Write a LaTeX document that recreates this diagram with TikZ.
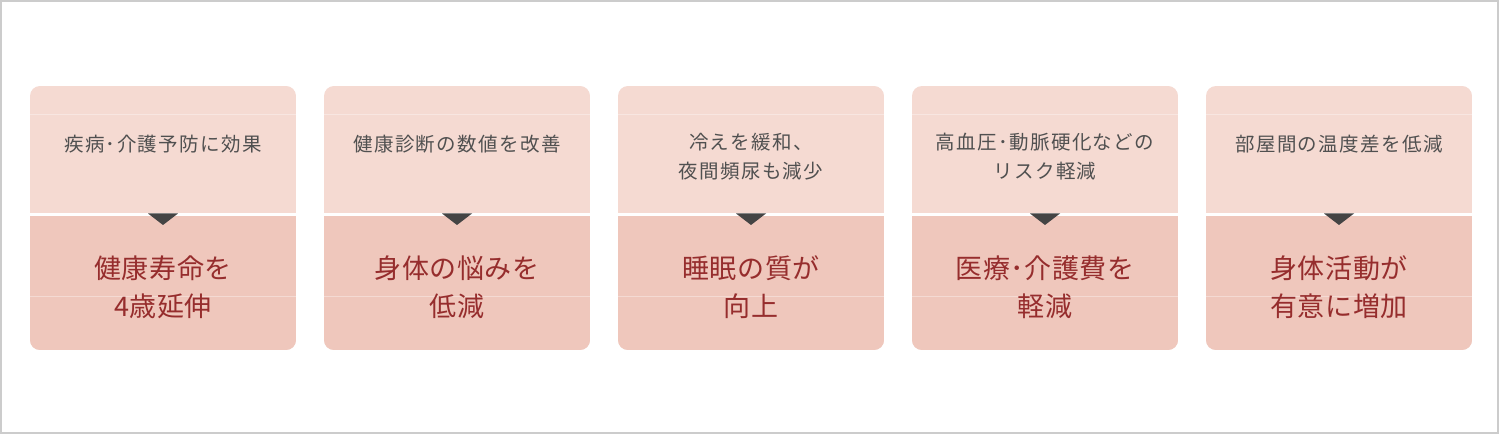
\documentclass[tikz,border=0pt]{standalone}
\usepackage{fontspec}
\setmainfont{Noto Sans CJK JP}
\newfontfamily\topfont[LetterSpace=7]{Noto Sans CJK JP}
\newfontfamily\botfont[LetterSpace=2]{Noto Sans CJK JP}
\definecolor{topc}{HTML}{F5DAD2}
\definecolor{botc}{HTML}{EFC7BC}
\definecolor{txtgray}{HTML}{505050}
\definecolor{txtred}{HTML}{962D2D}
\definecolor{framec}{HTML}{CCCCCC}
\definecolor{tric}{HTML}{444444}
\tikzset{
  toptext/.style={text=txtgray, align=center, inner sep=0pt, font=\topfont\fontsize{19.5}{29}\selectfont},
  bottext/.style={text=txtred, align=center, inner sep=0pt, font=\botfont\fontsize{27}{38}\selectfont},
  faint/.style={white, opacity=0.35, line width=1pt}
}
\begin{document}
\begin{tikzpicture}[x=1pt,y=-1pt]
\useasboundingbox (0,0) rectangle (1500,435);
\fill[white] (0,0) rectangle (1500,435);
\draw[framec,line width=2pt] (1,1) rectangle (1498,433);
\foreach \i/\tt/\bt/\ty in {
  0/{疾病･介護予防に効果}/{健康寿命を\\4歳延伸}/144,
  1/{健康診断の数値を改善}/{身体の悩みを\\低減}/144,
  2/{冷えを緩和、\\夜間頻尿も減少}/{睡眠の質が\\向上}/156.5,
  3/{高血圧･動脈硬化などの\\リスク軽減}/{医療･介護費を\\軽減}/156.5,
  4/{部屋間の温度差を低減}/{身体活動が\\有意に増加}/144} {
  \pgfmathsetmacro{\L}{30+294*\i}
  \pgfmathsetmacro{\R}{\L+266}
  \pgfmathsetmacro{\C}{\L+133}
  \begin{scope}
    \clip[rounded corners=10pt] (\L,86) rectangle (\R,350);
    \fill[topc] (\L,86) rectangle (\R,350);
    \fill[botc] (\L,216) rectangle (\R,350);
    \fill[white] (\L,213) rectangle (\R,216.5);
    \draw[faint] (\L,115) -- (\R,115);
    \draw[faint] (\L,297) -- (\R,297);
  \end{scope}
  \fill[tric] (\C-15,213.5) -- (\C+15,213.5) -- (\C,225) -- cycle;
  \node[toptext] (top\i) at (\C,\ty) {\tt};
  \node[bottext] (bot\i) at (\C,287.5) {\bt};
}
\end{tikzpicture}
\end{document}
